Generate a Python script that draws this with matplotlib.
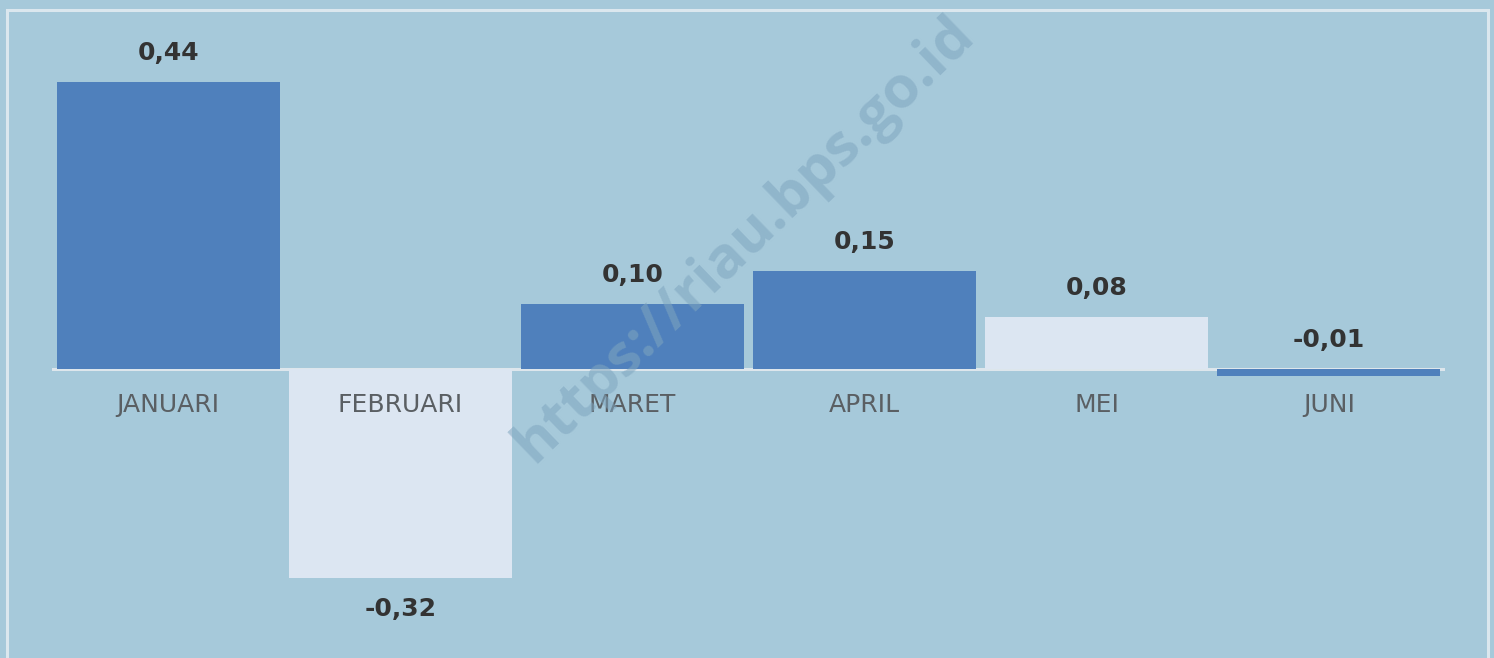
import matplotlib
matplotlib.use("Agg")
import matplotlib.pyplot as plt
from matplotlib.patches import Rectangle

months = ["JANUARI", "FEBRUARI", "MARET", "APRIL", "MEI", "JUNI"]
values = [0.44, -0.32, 0.10, 0.15, 0.08, -0.01]
value_labels = ["0,44", "-0,32", "0,10", "0,15", "0,08", "-0,01"]

DARK = "#4f80bc"
LIGHT = "#dce6f2"
BG = "#a6c9da"
bar_colors = [DARK, LIGHT, DARK, DARK, LIGHT, DARK]

W, H = 1494, 658
fig = plt.figure(figsize=(W / 100, H / 100), dpi=100)
fig.patch.set_facecolor(BG)

# frame border
fig.add_artist(Rectangle((7 / W, -0.05), (1488 - 7) / W, (H - 10) / H + 0.05,
                         transform=fig.transFigure, fill=False,
                         edgecolor="#dbe7ee", linewidth=2.2))

ax = fig.add_axes([52 / W, 0, (1445 - 52) / W, 1])
ax.set_facecolor("none")
x = list(range(len(months)))
ax.bar(x, values, width=0.96, color=bar_colors, zorder=2)
ax.axhline(0, color="#dde6ec", linewidth=2.2, zorder=1)
ax.set_xlim(-0.5, 5.5)
ax.set_ylim(-(H - 369) / 652, 369 / 652)
ax.axis("off")

font = "DejaVu Sans"
for i, (v, lab) in enumerate(zip(values, value_labels)):
    if v < -0.05:
        ax.annotate(lab, (i, v), xytext=(0, -31), textcoords="offset pixels",
                    ha="center", va="center", fontsize=18, fontweight="bold",
                    color="#333333", family=font, zorder=3)
    else:
        ax.annotate(lab, (i, max(v, 0)), xytext=(0, 29), textcoords="offset pixels",
                    ha="center", va="center", fontsize=18, fontweight="bold",
                    color="#333333", family=font, zorder=3)
    ax.annotate(months[i], (i, 0), xytext=(0, -36), textcoords="offset pixels",
                ha="center", va="center", fontsize=18, color="#5a5f63",
                family=font, zorder=3)

# watermark
fig.text(745 / W, 1 - 240 / H, "https://riau.bps.go.id", rotation=44,
         ha="center", va="center", fontsize=42, fontweight="bold",
         color="#7fa6bf", alpha=0.55, family="Open Sans", zorder=5)

fig.savefig("out.png", dpi=100, facecolor=BG)
